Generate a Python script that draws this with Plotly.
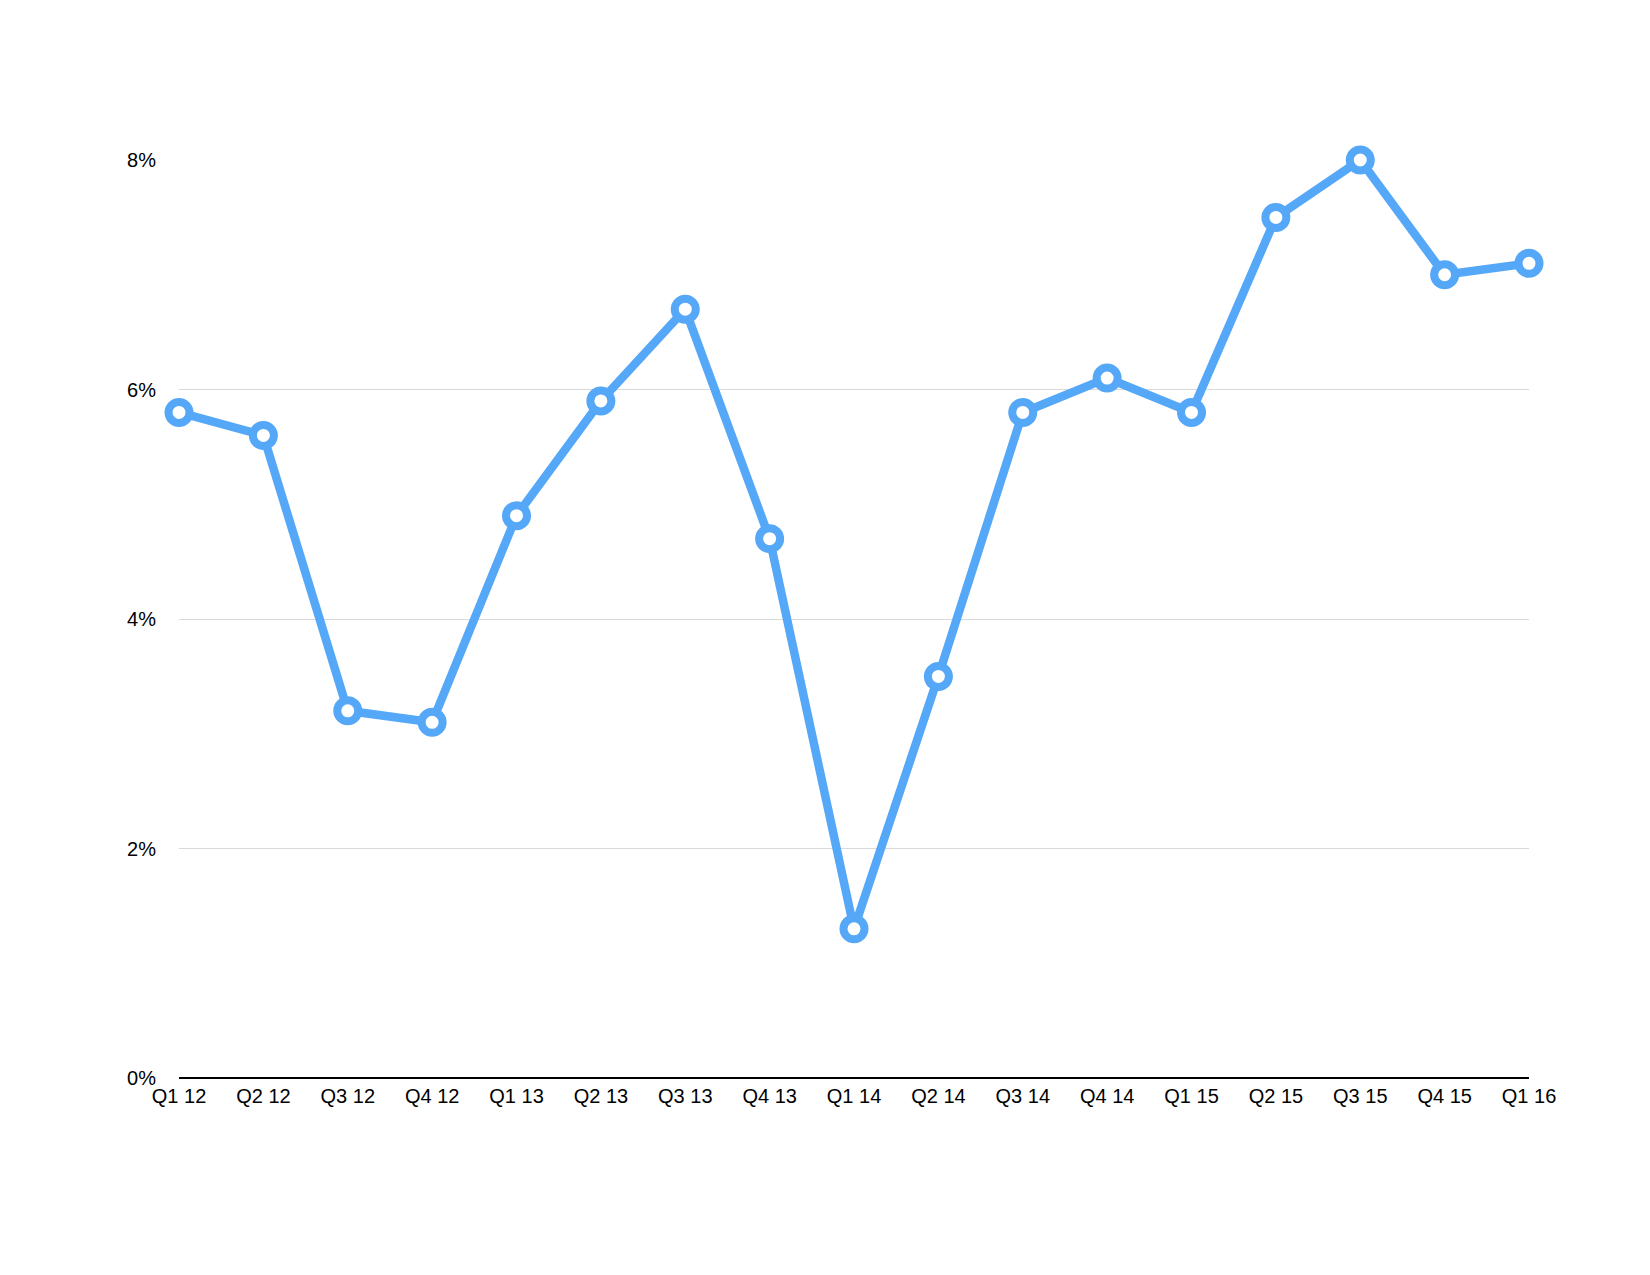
import plotly.graph_objects as go

quarters = ["Q1 12", "Q2 12", "Q3 12", "Q4 12", "Q1 13", "Q2 13", "Q3 13", "Q4 13",
            "Q1 14", "Q2 14", "Q3 14", "Q4 14", "Q1 15", "Q2 15", "Q3 15", "Q4 15", "Q1 16"]
values = [5.8, 5.6, 3.2, 3.1, 4.9, 5.9, 6.7, 4.7, 1.3, 3.5, 5.8, 6.1, 5.8, 7.5, 8.0, 7.0, 7.1]
y_ticks = [0, 2, 4, 6, 8]
y_tick_labels = ["0%", "2%", "4%", "6%", "8%"]

blue = "#55a7f7"

fig = go.Figure()
fig.add_trace(go.Scatter(
    x=quarters, y=values, mode="lines+markers",
    line=dict(color=blue, width=8.5),
    marker=dict(size=21, color="white", line=dict(color=blue, width=8)),
    cliponaxis=False, showlegend=False,
))

fig.update_layout(
    width=1650, height=1275,
    margin=dict(l=171, r=129, t=152, b=205),
    paper_bgcolor="white", plot_bgcolor="white",
    font=dict(family="Liberation Sans, Arial, sans-serif", size=20, color="black"),
    xaxis=dict(
        type="category", range=[0, len(quarters) - 1],
        showgrid=False, zeroline=False, showline=False,
        ticks="", ticklabelstandoff=4,
        tickfont=dict(size=20),
    ),
    yaxis=dict(
        range=[0, 8], tickvals=y_ticks, ticktext=y_tick_labels,
        showgrid=True, gridcolor="#d9d9d9", gridwidth=1,
        zeroline=True, zerolinecolor="black", zerolinewidth=2,
        showline=False, ticks="", ticklabelstandoff=22,
        tickfont=dict(size=20),
    ),
)

fig.write_html("out.html")
